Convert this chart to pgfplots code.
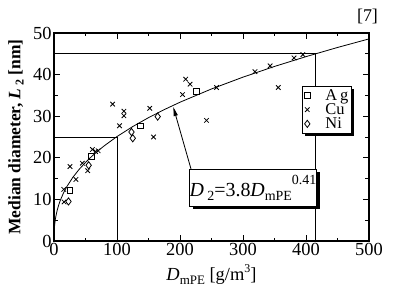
\documentclass[border=0pt]{standalone}
\usepackage{fontspec}
\setmainfont{Liberation Serif}
\usepackage{pgfplots}
\pgfplotsset{compat=1.18}
\usetikzlibrary{shadows,arrows.meta}
\newcommand{\fs}{\fontsize{18.5}{19}\selectfont}
\begin{document}
\begin{tikzpicture}
\path[use as bounding box] (-54bp,-52bp) rectangle (342bp,241bp);
\begin{axis}[
  at={(0,0)}, anchor=south west, scale only axis,
  width=315bp, height=208bp,
  xmin=0, xmax=500, ymin=0, ymax=50,
  xtick={0,100,...,500}, ytick={0,10,...,50},
  minor x tick num=1, minor y tick num=1,
  tick align=inside, major tick length=6bp, minor tick length=3.5bp,
  axis line style={line width=1.2bp},
  every tick/.style={line width=0.9bp, black},
  /pgf/number format/assume math mode=true,
  tick label style={font=\fs},
  xticklabel style={yshift=1bp},
  yticklabel style={xshift=1bp},
  label style={font=\fs},
  xlabel={\textit{D}\raisebox{-0.45ex}{\fontsize{13}{13}\selectfont mPE} [g/m\raisebox{0.9ex}{\fontsize{12}{12}\selectfont 3}]},
  ylabel={\textbf{Median diameter, \textit{L}\,\raisebox{-0.4ex}{\fontsize{12}{12}\selectfont 2} [nm]}},
  xlabel style={at={(axis description cs:0.5,-0.162)}, anchor=center},
  ylabel style={at={(axis description cs:-0.121,0.5)}, anchor=center, font=\fontsize{17.5}{18}\selectfont},
  legend image code/.code={\draw[#1] plot coordinates {(0bp,0bp)};},
  legend style={at={(axis description cs:0.786,0.745)}, anchor=north west,
    draw=black, line width=0.8bp, fill=white,
    drop shadow={shadow xshift=3bp, shadow yshift=-3bp, fill=black, opacity=1},
    font=\fontsize{16.5}{17}\selectfont, inner sep=2.5bp, row sep=1bp, column sep=15bp,
    nodes={inner sep=0.4bp}},
  legend cell align=left,
]
\addplot[black, line width=0.8bp, forget plot] coordinates {(0,25) (100,25) (100,0)};
\addplot[black, line width=0.8bp, forget plot] coordinates {(0,45) (415.5,45) (415.5,0)};
\addplot[black, line width=0.8bp, forget plot] coordinates {
(0,0) (0.01,0.575) (0.05,1.11) (0.1,1.48) (0.3,2.32) (0.5,2.86) (1,3.8) (2,5.05) (3,5.96) (5,7.35)
(7.5,8.68) (10,9.77) (15,11.53) (20,12.98) (30,15.33) (40,17.24) (50,18.89) (60,20.36)
(70,21.69) (80,22.91) (100,25.11) (125,27.51) (150,29.65) (175,31.58) (200,33.36)
(250,36.55) (300,39.39) (350,41.96) (400,44.32) (450,46.52) (500,48.58)};
\addplot[only marks, black, mark=square, mark size=2.8bp, mark options={line width=0.8bp}] coordinates {
(25.4,12.1) (59.5,20.3) (137,27.7) (226.5,35.9)};
\addlegendentry{A\,g}
\addplot[only marks, black, mark=x, mark size=3.2bp, mark options={line width=0.8bp}] coordinates {
(15.5,12.4) (16,9.4) (25.4,17.9) (34.8,14.8) (45,18.7) (53.5,16.9) (61,22) (66,21.5) (70,21.7)
(93,32.9) (104,27.7) (111,31.2) (111,30.1) (152,31.9) (158,25) (204,35.2) (209,38.9)
(216,37.7) (242,29) (258,36.9) (319,40.7) (343,42.1) (356,36.9) (381,44) (395,44.8)};
\addlegendentry{Cu}
\addplot[only marks, black, mark=diamond, mark size=3.6bp, mark options={line width=0.8bp}] coordinates {
(23,9.5) (55,18.2) (123,26.2) (125,24.7) (164.6,29.9)};
\addlegendentry{Ni}
\draw[-{Triangle[length=9bp,width=4bp]}, line width=0.8bp] (axis cs:217.5,17.3) -- (axis cs:189.4,32.2);
\node[draw, fill=white, line width=0.8bp,
  drop shadow={shadow xshift=3bp, shadow yshift=-3bp, fill=black, opacity=1},
  minimum width=127bp, minimum height=37bp, inner sep=0pt,
  font=\fontsize{20}{21}\selectfont] at (axis cs:315.9,12.86)
  {\textit{D}\,\raisebox{-0.45ex}{\fontsize{14}{14}\selectfont 2}=3.8\textit{D}\raisebox{-0.45ex}{\fontsize{14}{14}\selectfont mPE}\raisebox{1.3ex}{\fontsize{14}{14}\selectfont 0.41}};
\end{axis}
\node[font=\fontsize{18}{18}\selectfont] at (313.5bp,225bp) {[7]};
\end{tikzpicture}
\end{document}
